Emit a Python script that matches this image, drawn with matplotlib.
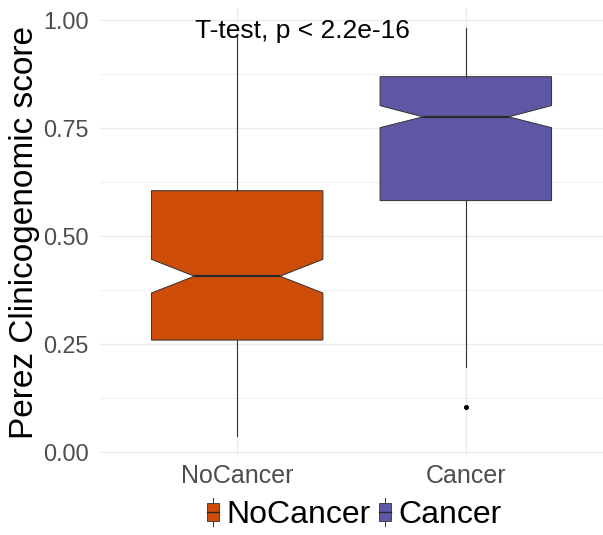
import matplotlib
matplotlib.use("Agg")
import matplotlib.pyplot as plt
from matplotlib.patches import Patch, Rectangle
from matplotlib.lines import Line2D
from matplotlib.legend_handler import HandlerBase

plt.rcParams['font.family'] = ['Liberation Sans', 'DejaVu Sans']

# values
groups = ['NoCancer', 'Cancer']
colors = ['#CC4C08', '#5E57A3']
q1 = [0.259, 0.582]
med = [0.407, 0.776]
q3 = [0.605, 0.869]
ci_lo = [0.368, 0.751]
ci_hi = [0.446, 0.802]
wh_lo = [0.036, 0.197]
wh_hi = [0.965, 0.981]
outliers = [[], [0.105]]
yticks = [0.00, 0.25, 0.50, 0.75, 1.00]
ytick_labels = ['0.00', '0.25', '0.50', '0.75', '1.00']
test_label = 'T-test, p < 2.2e-16'
ylabel = 'Perez Clinicogenomic score'

edge = '#333333'

fig = plt.figure(figsize=(6.03, 5.35), dpi=100)
ax = fig.add_axes([0.1658, 0.1464, 0.8342, 0.8386])

# grid like theme_minimal
for y in yticks:
    ax.axhline(y, color='#EBEBEB', lw=0.9, zorder=0)
for i in range(len(yticks) - 1):
    ax.axhline((yticks[i] + yticks[i + 1]) / 2, color='#F0F0F0', lw=0.7, zorder=0)
for i in range(len(groups)):
    ax.axvline(i, color='#EBEBEB', lw=0.9, zorder=0)

stats = []
for i, g in enumerate(groups):
    stats.append(dict(label=g, q1=q1[i], med=med[i], q3=q3[i],
                      cilo=ci_lo[i], cihi=ci_hi[i],
                      whislo=wh_lo[i], whishi=wh_hi[i], fliers=outliers[i]))

bp = ax.bxp(stats, positions=range(len(groups)), widths=0.75, shownotches=True,
            patch_artist=True, showcaps=False,
            boxprops=dict(edgecolor=edge, linewidth=0.7),
            whiskerprops=dict(color=edge, linewidth=0.8),
            medianprops=dict(color='#2A2A2A', linewidth=1.6),
            flierprops=dict(marker='o', markersize=2.6, markerfacecolor='black',
                            markeredgecolor='black'))
for patch, c in zip(bp['boxes'], colors):
    patch.set_facecolor(c)

ax.set_xlim(-0.6, 1.6)
ax.set_ylim(-0.011, 1.028)
ax.set_yticks(yticks)
ax.set_yticklabels(ytick_labels)
ax.set_xticks(range(len(groups)))
ax.set_xticklabels(groups)
ax.tick_params(axis='y', length=0, pad=8, labelsize=16.8, labelcolor='#4D4D4D')
ax.tick_params(axis='x', length=0, pad=5, labelsize=18, labelcolor='#4D4D4D')
for s in ax.spines.values():
    s.set_visible(False)

ax.set_ylabel(ylabel, fontsize=24, va='center', ha='center')
ax.yaxis.set_label_coords(-0.15, 0.5)

ax.text(0.285, 0.958, test_label, ha='center', va='baseline', fontsize=19)


class BoxKey(HandlerBase):
    def create_artists(self, legend, orig_handle, xdescent, ydescent,
                       width, height, fontsize, trans):
        x0 = -xdescent
        y0 = -ydescent
        cx = x0 + width / 2
        line = Line2D([cx, cx], [y0 - height * 0.25, y0 + height * 1.25],
                      color=edge, lw=0.7, transform=trans)
        rect = Rectangle((x0, y0), width, height,
                         facecolor=orig_handle.get_facecolor(), edgecolor=edge,
                         lw=0.6, transform=trans)
        mline = Line2D([x0, x0 + width], [y0 + height * 0.5] * 2,
                       color='#2A2A2A', lw=1.0, transform=trans)
        return [line, rect, mline]


handles = [Patch(facecolor=c) for c in colors]
fig.legend(handles, groups, loc='center', bbox_to_anchor=(0.588, 0.037),
           ncol=2, frameon=False, fontsize=23, handlelength=0.37,
           handleheight=0.5, handletextpad=0.24, columnspacing=0.25,
           handler_map={Patch: BoxKey()})

fig.savefig('out.png', dpi=100)
